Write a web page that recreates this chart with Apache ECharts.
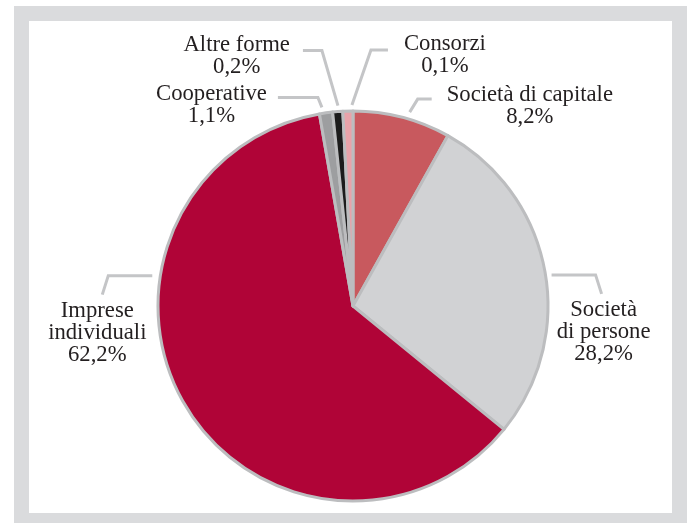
<!DOCTYPE html>
<html>
<head>
<meta charset="utf-8">
<script src="https://cdn.jsdelivr.net/npm/echarts@6/dist/echarts.min.js"></script>
<style>
  html, body { margin: 0; padding: 0; background: #ffffff; }
  #chart { width: 690px; height: 523px; }
</style>
</head>
<body>
<div id="chart"></div>
<script>
// Forme giuridiche delle imprese (quote percentuali)
const categories = ['Società di capitale', 'Società di persone', 'Imprese individuali', 'Cooperative', 'Altre forme', 'Consorzi'];
const labelNames = ['Società di capitale', 'Società\ndi persone', 'Imprese\nindividuali', 'Cooperative', 'Altre forme', 'Consorzi'];
const shares = [8.2, 28.2, 62.2, 1.1, 0.2, 0.1];
const sliceColors = ['#c8595e', '#d1d2d4', '#b00437', '#9d9ea0', '#1c1c1c', '#e8a3aa'];

// pie geometry (pixels)
const CX = 353, CY = 306, R = 195;

// leader lines: start angle (deg, clockwise from 12 o'clock), two segments, label placement
const guides = [
  { at: 16.3,  off: 7, s1: [8, -13],  s2: [14, 0],  side: 'right', gap: 15, top: -15 },
  { at: 81.1,  off: 6, s1: [44, 0],   s2: [6, 19],  side: 'below', dx: 2,   top: 5 },
  { at: 278.6, off: 8, s1: [-44, 0],  s2: [-6, 19], side: 'below', dx: -5,  top: 5 },
  { at: 351.1, off: 6, s1: [-4, -10], s2: [-40, 0], side: 'left',  gap: 11, top: -14 },
  { at: 355.7, off: 6, s1: [-16, -55], s2: [-19, 0], side: 'left', gap: 13, top: -17 },
  { at: 359.7, off: 6, s1: [19, -55], s2: [17, 0],  side: 'right', gap: 16, top: -17 }
];

function pct(v) {
  return v.toFixed(1).replace('.', ',') + '%';
}

function guidePoints(g) {
  const a = g.at * Math.PI / 180;
  const r = R + g.off;
  const p0 = [CX + r * Math.sin(a), CY - r * Math.cos(a)];
  const p1 = [p0[0] + g.s1[0], p0[1] + g.s1[1]];
  const p2 = [p1[0] + g.s2[0], p1[1] + g.s2[1]];
  return [p0, p1, p2];
}

const chart = echarts.init(document.getElementById('chart'), null, { renderer: 'canvas' });

chart.setOption({
  backgroundColor: '#ffffff',
  animation: false,
  graphic: [{
    type: 'rect',
    z: -10,
    shape: { x: 21.5, y: 13.5, width: 658, height: 507 },
    style: { fill: null, stroke: '#dadbdd', lineWidth: 15 }
  }],
  series: [{
    type: 'pie',
    center: [CX, CY],
    radius: [0, R],
    startAngle: 90,
    clockwise: true,
    minAngle: 3,
    avoidLabelOverlap: false,
    itemStyle: { borderColor: '#bcbdbf', borderWidth: 3 },
    label: {
      show: true,
      position: 'outside',
      color: '#231f20',
      fontFamily: '"Liberation Serif", "DejaVu Serif", serif',
      fontSize: 22.7,
      lineHeight: 22,
      formatter: p => labelNames[p.dataIndex] + '\n' + pct(shares[p.dataIndex])
    },
    labelLine: {
      show: true,
      smooth: false,
      lineStyle: { color: '#c4c5c7', width: 3, cap: 'butt', join: 'miter' }
    },
    labelLayout: function (params) {
      const g = guides[params.dataIndex];
      const pts = guidePoints(g);
      const end = pts[2];
      const w = params.labelRect.width;
      let x;
      if (g.side === 'right') x = end[0] + g.gap + w / 2;
      else if (g.side === 'left') x = end[0] - g.gap - w / 2;
      else x = end[0] + g.dx;
      return {
        x: x,
        y: end[1] + g.top,
        align: 'center',
        verticalAlign: 'top',
        labelLinePoints: pts
      };
    },
    data: categories.map((name, i) => ({
      name: name,
      value: shares[i],
      itemStyle: { color: sliceColors[i] }
    }))
  }]
});
</script>
</body>
</html>
